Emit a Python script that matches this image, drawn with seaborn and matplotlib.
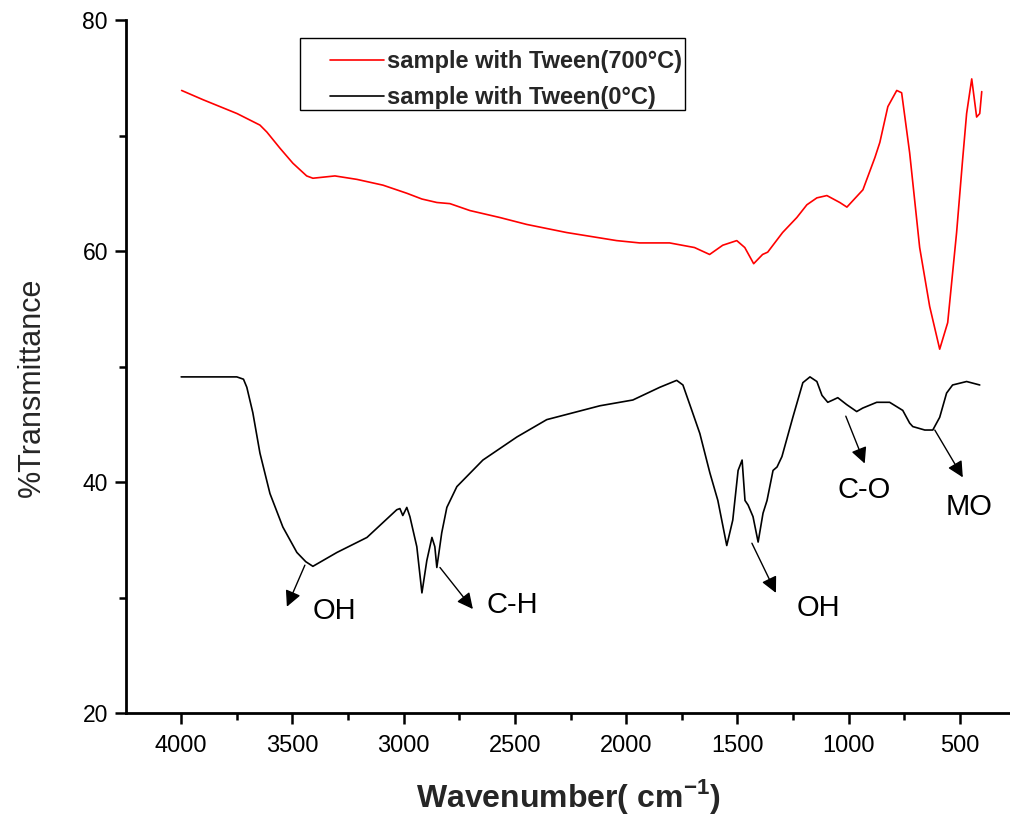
import numpy as np
import pandas as pd
import matplotlib
matplotlib.use("Agg")
import matplotlib.pyplot as plt
from matplotlib.ticker import MultipleLocator
from matplotlib.patches import Rectangle
import seaborn as sns

# ---- data ----
wn_700 = [3998, 3902, 3749, 3646, 3615, 3556, 3498, 3436, 3408, 3309, 3210, 3093, 2986, 2918,
          2851, 2792, 2702, 2568, 2447, 2268, 2043, 1940, 1805, 1693, 1625, 1566, 1503, 1467,
          1427, 1387, 1364, 1297, 1233, 1188, 1143, 1098, 1040, 1008, 936, 882, 860, 824, 784,
          762, 726, 681, 636, 591, 555, 515, 488, 470, 447, 425, 411, 402]
t_700 = [73.9, 73.1, 71.9, 70.9, 70.3, 68.9, 67.6, 66.5, 66.3, 66.5, 66.2, 65.7, 65.0, 64.5,
         64.2, 64.1, 63.5, 62.9, 62.3, 61.6, 60.9, 60.7, 60.7, 60.3, 59.7, 60.5, 60.9, 60.3,
         58.9, 59.7, 59.9, 61.6, 62.9, 64.0, 64.6, 64.8, 64.2, 63.8, 65.3, 68.1, 69.4, 72.5, 73.9,
         73.7, 68.5, 60.3, 55.2, 51.5, 53.8, 61.6, 67.9, 71.9, 74.9, 71.6, 71.9, 73.8]

wn_0 = [4000, 3750, 3720, 3705, 3678, 3646, 3601, 3543, 3480, 3440, 3408, 3300, 3165, 3031, 3017, 3004,
        2986, 2972, 2941, 2918, 2896, 2873, 2860, 2851, 2829, 2806, 2761, 2644, 2491, 2357,
        2118, 1970, 1849, 1773, 1745, 1705, 1669, 1624, 1588, 1548, 1521, 1497, 1479, 1466,
        1452, 1430, 1407, 1385, 1367, 1340, 1322, 1300, 1251, 1206, 1174, 1143, 1120, 1094,
        1071, 1049, 1009, 964, 937, 874, 816, 757, 726, 712, 658, 622, 591, 560, 533, 470, 411]
t_0 = [49.1, 49.1, 48.9, 48.2, 46.0, 42.5, 39.0, 36.1, 33.9, 33.1, 32.7, 33.9, 35.2, 37.6, 37.7, 37.1,
       37.8, 37.0, 34.4, 30.4, 33.2, 35.2, 34.4, 32.6, 35.6, 37.8, 39.6, 41.9, 43.9, 45.4,
       46.6, 47.1, 48.2, 48.8, 48.4, 46.2, 44.2, 40.8, 38.4, 34.5, 36.7, 41.0, 41.9, 38.4,
       38.0, 37.0, 34.8, 37.3, 38.4, 41.0, 41.3, 42.2, 45.6, 48.6, 49.1, 48.7, 47.5, 46.9,
       47.1, 47.3, 46.7, 46.1, 46.4, 46.9, 46.9, 46.2, 45.1, 44.8, 44.5, 44.5, 45.6, 47.7,
       48.4, 48.7, 48.4]

series_labels = ["sample with Tween(700°C)", "sample with Tween(0°C)"]
series_colors = ["#ff0000", "#000000"]

ann_labels = ["OH", "C-H", "OH", "C-O", "MO"]
ann_text_x = [3309, 2514, 1138, 931, 460]
ann_text_y = [28.8, 29.35, 29.1, 39.3, 37.8]
ann_start_x = [3444, 2837, 1435, 1013, 613]
ann_start_y = [32.8, 32.6, 34.7, 45.7, 44.5]
ann_end_x = [3525, 2689, 1327, 928, 487]
ann_end_y = [29.2, 29.0, 30.4, 41.6, 40.4]

x_ticks = [4000, 3500, 3000, 2500, 2000, 1500, 1000, 500]
y_ticks = [20, 40, 60, 80]

# ---- styling ----
sns.set_theme(style="white")
plt.rcParams["font.family"] = ["Liberation Sans", "DejaVu Sans"]

W, H = 1010, 821
fig = plt.figure(figsize=(W / 100, H / 100), dpi=100)
ax = fig.add_axes([126 / W, 1 - 713 / H, (1010 - 126) / W, (713 - 20) / H])

df = pd.concat([
    pd.DataFrame({"wn": wn_700, "T": t_700, "series": series_labels[0]}),
    pd.DataFrame({"wn": wn_0, "T": t_0, "series": series_labels[1]}),
])
sns.lineplot(data=df, x="wn", y="T", hue="series", palette=series_colors,
             hue_order=series_labels, estimator=None, sort=False, lw=1.2, ax=ax)

ax.set_xlim(4248, 275)
ax.set_ylim(20, 80)
ax.set_xticks(x_ticks)
ax.set_yticks(y_ticks)
ax.xaxis.set_minor_locator(MultipleLocator(250))
ax.yaxis.set_minor_locator(MultipleLocator(10))

for s in ["top", "right"]:
    ax.spines[s].set_visible(False)
for s in ["left", "bottom"]:
    ax.spines[s].set_linewidth(2)
    ax.spines[s].set_color("black")

ax.tick_params(axis="both", which="major", direction="out", length=8, width=1.8,
               colors="black", bottom=True, left=True)
ax.tick_params(axis="both", which="minor", direction="out", length=5, width=1.8,
               colors="black", bottom=True, left=True)
ax.tick_params(axis="y", labelsize=16.5, pad=5)
ax.tick_params(axis="x", labelsize=17, pad=8)

ax.set_xlabel("Wavenumber( cm$^{\\mathregular{-1}}$)", fontsize=23, fontweight="bold", labelpad=14)
ax.set_ylabel("%Transmittance", fontsize=22)
ax.yaxis.set_label_coords(-0.089, 0.47)

for lab, tx, ty, sx, sy, ex, ey in zip(ann_labels, ann_text_x, ann_text_y,
                                       ann_start_x, ann_start_y, ann_end_x, ann_end_y):
    ax.annotate("", xy=(ex, ey), xytext=(sx, sy),
                arrowprops=dict(arrowstyle="-|>", color="black", lw=1.0, mutation_scale=24,
                                shrinkA=0, shrinkB=0))
    ax.text(tx, ty, lab, fontsize=21, ha="center", va="center", color="black")

# legend frame drawn separately to match the reference padding
frame = Rectangle((300 / W, 1 - 110 / H), 385 / W, 72 / H,
                  transform=fig.transFigure, facecolor="white",
                  edgecolor="black", linewidth=1.0, zorder=4, clip_on=False)
ax.add_patch(frame)
leg = ax.legend(loc="upper left", bbox_to_anchor=(330 / W, 1 - 50 / H),
                bbox_transform=fig.transFigure, borderaxespad=0, frameon=False,
                prop={"weight": "bold", "size": 17},
                handlelength=2.3, handletextpad=0.1, borderpad=0, labelspacing=0.55)
leg.set_zorder(6)
for line in leg.get_lines():
    line.set_linewidth(1.2)

fig.savefig("out.png", dpi=100, facecolor="white")
